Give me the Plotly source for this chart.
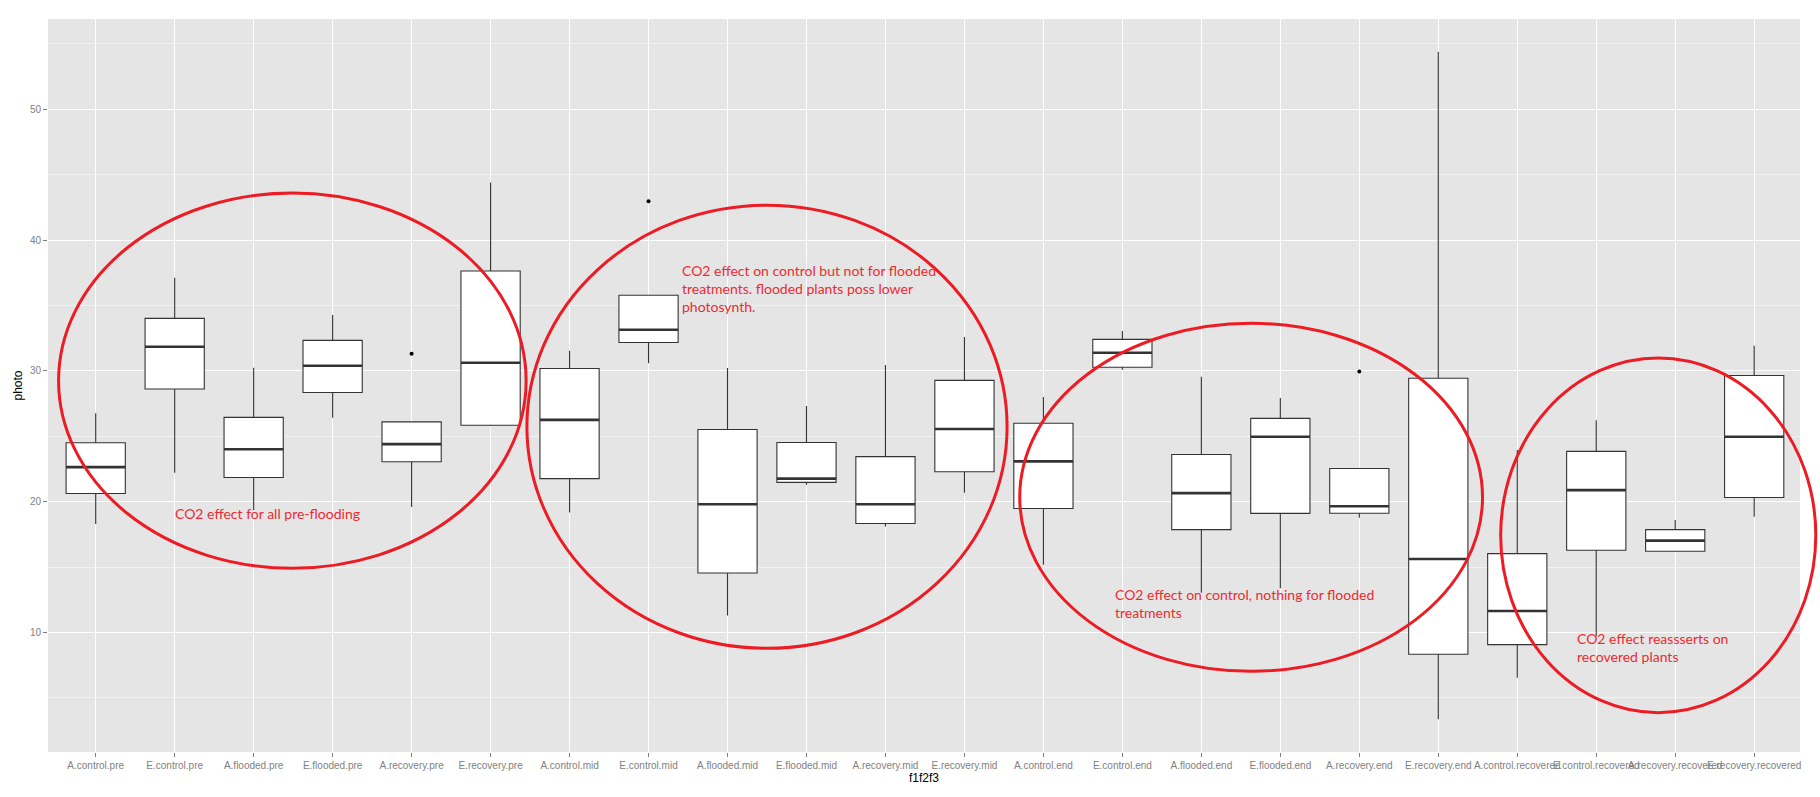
import plotly.graph_objects as go

categories = ["A.control.pre", "E.control.pre", "A.flooded.pre", "E.flooded.pre",
              "A.recovery.pre", "E.recovery.pre", "A.control.mid", "E.control.mid",
              "A.flooded.mid", "E.flooded.mid", "A.recovery.mid", "E.recovery.mid",
              "A.control.end", "E.control.end", "A.flooded.end", "E.flooded.end",
              "A.recovery.end", "E.recovery.end", "A.control.recovered",
              "E.control.recovered", "A.recovery.recovered", "E.recovery.recovered"]

lower = [18.31, 22.21, 19.36, 26.42, 19.60, 25.80, 19.19, 30.60, 11.31, 21.31, 18.11,
         20.69, 15.18, 30.10, 13.04, 13.39, 18.78, 3.38, 6.55, 9.70, 16.22, 18.85]
q1 = [20.63, 28.62, 21.86, 28.36, 23.06, 25.85, 21.77, 32.18, 14.56, 21.48, 18.34,
      22.30, 19.49, 30.28, 17.87, 19.11, 19.12, 8.34, 9.08, 16.29, 16.22, 20.33]
median = [22.65, 31.85, 24.02, 30.40, 24.41, 30.63, 26.26, 33.15, 19.81, 21.77, 19.81,
          25.56, 23.09, 31.39, 20.66, 24.97, 19.66, 15.62, 11.65, 20.89, 17.03, 24.97]
q3 = [24.51, 34.02, 26.45, 32.34, 26.11, 37.64, 30.19, 35.79, 25.53, 24.53, 23.45,
      29.28, 26.00, 32.42, 23.62, 26.38, 22.55, 29.44, 16.04, 23.85, 17.87, 29.65]
upper = [26.76, 37.13, 30.24, 34.28, 26.11, 44.41, 31.54, 35.79, 30.22, 27.32, 30.45,
         32.60, 28.02, 33.06, 29.55, 27.93, 22.55, 54.40, 23.95, 26.24, 18.61, 31.93]

outlier_idx = [4, 7, 16]
outlier_val = [31.31, 42.98, 29.96]

# annotation texts (position in category index / value units)
notes = [
    ("CO2 effect for all pre-flooding", 0.99, 19.10),
    ("CO2 effect on control but not for flooded<br>treatments. flooded plants poss lower<br>photosynth.", 7.41, 36.31),
    ("CO2 effect on control, nothing for flooded<br>treatments", 12.90, 12.22),
    ("CO2 effect reassserts on<br>recovered plants", 18.74, 8.84),
]
# ellipses: (x0, x1) in category units, (y0, y1) in value units
ellipses = [(-0.47, 5.45, 14.92, 43.60),
            (5.46, 11.54, 8.80, 42.68),
            (11.70, 17.56, 7.04, 33.65),
            (17.79, 21.78, 3.88, 30.99)]

XR = [-0.604, 21.58]
YR = [0.87, 56.91]
BW = 0.75

pos = list(range(len(categories)))

fig = go.Figure()
fig.add_trace(go.Box(
    x=pos, q1=q1, median=median, q3=q3, lowerfence=lower, upperfence=upper,
    width=BW, whiskerwidth=0, fillcolor="white",
    line=dict(color="#333333", width=1.1), boxpoints=False, showlegend=False,
    hoverinfo="skip"))

mx, my = [], []
for i, m in zip(pos, median):
    mx += [i - BW / 2, i + BW / 2, None]
    my += [m, m, None]
fig.add_trace(go.Scatter(x=mx, y=my, mode="lines",
                         line=dict(color="#333333", width=2.6),
                         showlegend=False, hoverinfo="skip"))

fig.add_trace(go.Scatter(x=outlier_idx, y=outlier_val, mode="markers",
                         marker=dict(color="black", size=4),
                         showlegend=False, hoverinfo="skip"))


def px(v):
    return (v - XR[0]) / (XR[1] - XR[0])


def py(v):
    return (v - YR[0]) / (YR[1] - YR[0])


for x0, x1, y0, y1 in ellipses:
    fig.add_shape(type="circle", xref="paper", yref="paper",
                  x0=px(x0), x1=px(x1), y0=py(y0), y1=py(y1),
                  line=dict(color="#ED1C24", width=3), layer="above")

for txt, x, y in notes:
    fig.add_annotation(text=txt, x=x, y=y, xref="x", yref="y", showarrow=False,
                       xanchor="left", yanchor="middle", align="left",
                       font=dict(family="Lato", size=14, color="#EE2A30"),
                       borderpad=0)

fig.update_layout(
    width=1820, height=797,
    margin=dict(l=48, r=20, t=19, b=45.3),
    paper_bgcolor="white", plot_bgcolor="#E5E5E5",
    font=dict(family="Liberation Sans", size=10, color="#7F7F7F"),
    xaxis=dict(range=XR, tickvals=pos, ticktext=categories, tickangle=0,
               showgrid=True, gridcolor="white", gridwidth=1.1, zeroline=False,
               ticks="outside", ticklen=4, tickcolor="#7F7F7F", tickwidth=1,
               tickfont=dict(size=10, color="#7F7F7F"),
               title=dict(text="f1f2f3", font=dict(size=12, color="black"), standoff=3),
               showline=False, automargin=False),
    yaxis=dict(range=YR, tickvals=[10, 20, 30, 40, 50], showgrid=True,
               gridcolor="white", gridwidth=1.1, zeroline=False,
               minor=dict(tickvals=[5, 15, 25, 35, 45, 55], showgrid=True,
                          gridcolor="#F2F2F2", gridwidth=0.8),
               ticks="outside", ticklen=4, tickcolor="#7F7F7F", tickwidth=1,
               tickfont=dict(size=10, color="#7F7F7F"),
               title=dict(text="photo", font=dict(size=12, color="black"), standoff=4),
               showline=False, automargin=False),
)

fig.write_html("out.html")
